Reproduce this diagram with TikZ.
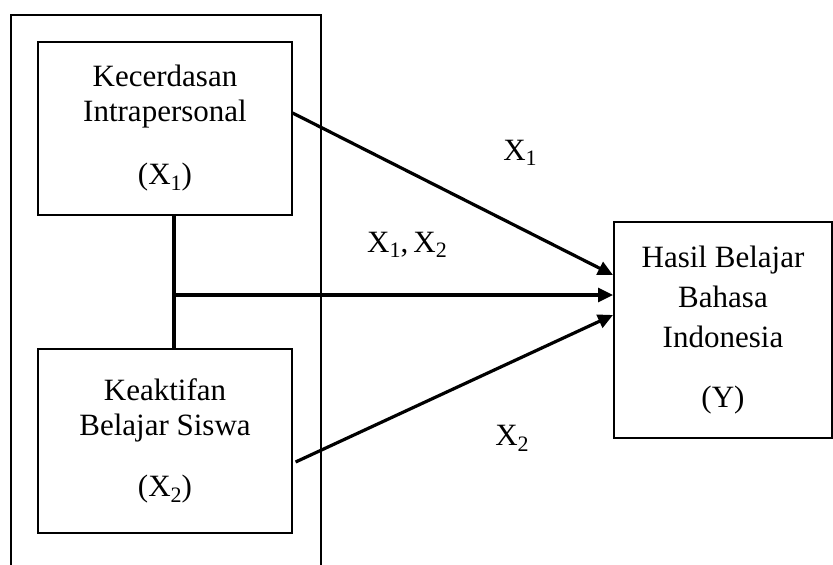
\documentclass[tikz,border=0pt]{standalone}
\usepackage{fontspec}
\setmainfont{Liberation Serif}
\usetikzlibrary{arrows.meta,positioning}
\newcommand{\varsub}[1]{\raisebox{-0.4ex}{\fontsize{22}{22}\selectfont#1}}
\tikzset{
  varbox/.style ={rectangle,draw,line width=1.2pt,minimum width=254pt,
                  minimum height=173pt,align=center,
                  font=\fontsize{31}{35}\selectfont},
  outbox/.style ={rectangle,draw,line width=2pt,minimum width=218pt,
                  minimum height=216pt,align=center,
                  font=\fontsize{31}{40}\selectfont},
  lbl/.style    ={font=\fontsize{31}{35}\selectfont},
  arr/.style    ={-{Triangle[length=15pt,width=14pt]},line width=3.2pt}
}

\begin{document}
\begin{tikzpicture}[x=1pt,y=-1pt]
  \useasboundingbox (0,0) rectangle (833,565);

  % Frame round the independent variables
  \draw[line width=2.2pt] (11,566) -- (11,15) -- (321,15) -- (321,566);

  % Variables
  \node (x1) at (165,128.5) [varbox] {Kecerdasan\\Intrapersonal\\[28pt](X\varsub{1})};
  \node (x2) at (165,441) [varbox, minimum height=184pt] {Keaktifan\\Belajar Siswa\\[26pt](X\varsub{2})};
  \node (y)  at (723,330) [outbox] {Hasil Belajar\\Bahasa\\Indonesia\\[20pt](Y)};

  % Labels
  \node (l1)  at (520,153) [lbl] {X\varsub{1}};
  \node (l12) at (407,245) [lbl] {X\varsub{1},\,X\varsub{2}};
  \node (l2)  at (512,438) [lbl] {X\varsub{2}};

  % Connectors
  \coordinate (jn) at (174,295);
  \draw[line width=3.2pt] ([xshift=9pt]x1.south) -- ([xshift=9pt]x2.north);
  \draw[arr] ([yshift=15.5pt]x1.east) -- ([yshift=55pt]y.west);
  \draw[arr] (jn) -- (jn -| y.west);
  \draw[arr] ([xshift=3pt,yshift=-21pt]x2.east) -- ([yshift=15pt]y.west);
\end{tikzpicture}
\end{document}
